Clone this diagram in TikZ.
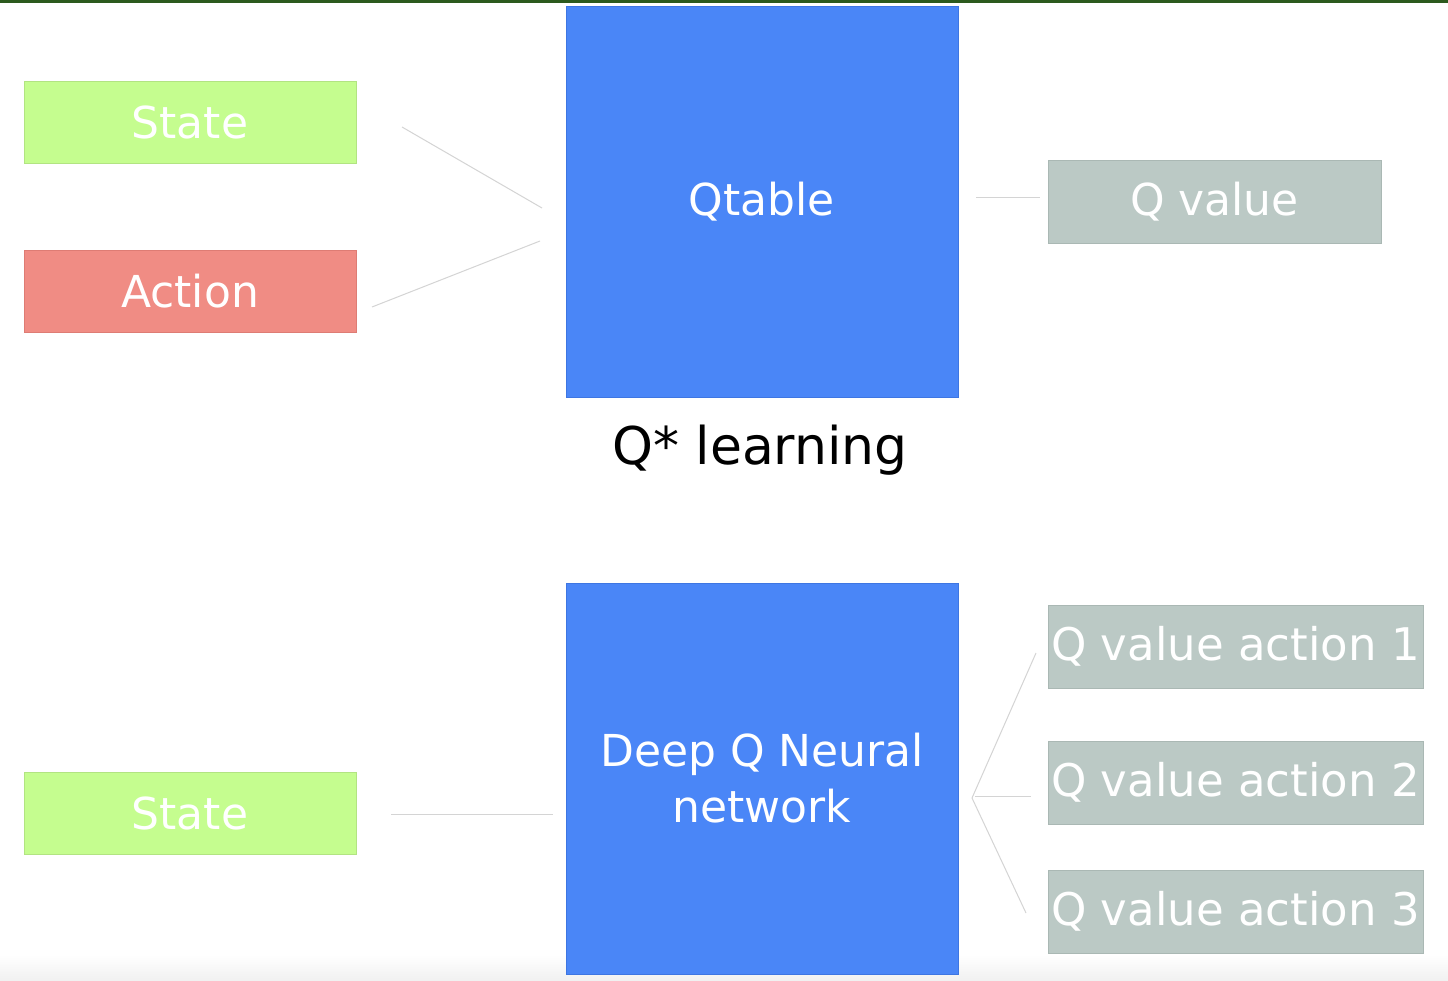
\documentclass[tikz,border=0pt]{standalone}
\usepackage{fontspec}
\setmainfont{DejaVu Sans}
\definecolor{topgreen}{RGB}{44,90,30}
\definecolor{stategreen}{RGB}{197,253,143}
\definecolor{statebd}{RGB}{178,228,130}
\definecolor{actionred}{RGB}{240,140,132}
\definecolor{actionbd}{RGB}{222,124,116}
\definecolor{qblue}{RGB}{74,134,247}
\definecolor{qbluebd}{RGB}{62,118,226}
\definecolor{qgray}{RGB}{187,201,197}
\definecolor{qgraybd}{RGB}{170,184,180}
\definecolor{linegray}{RGB}{212,212,212}
\definecolor{bottomgray}{RGB}{241,241,241}
\tikzset{
  box/.style={anchor=north west, inner sep=0pt, outer sep=0pt, line width=0.8pt, text=white, align=center,
    font=\fontsize{44}{56}\selectfont},
  statebox/.style={box, fill=stategreen, draw=statebd, minimum width=332pt, minimum height=82pt},
  actionbox/.style={box, fill=actionred, draw=actionbd, minimum width=332pt, minimum height=82pt},
  bigbox/.style={box, fill=qblue, draw=qbluebd, minimum width=392pt, minimum height=391pt},
  qbox/.style={box, fill=qgray, draw=qgraybd, minimum height=83pt},
  conn/.style={draw=linegray, line width=1pt}
}
\begin{document}
\begin{tikzpicture}[x=1pt,y=-1pt]
\useasboundingbox (0,0) rectangle (1448,980);
\fill[white] (0,0) rectangle (1448,980);
\shade[top color=white, bottom color=bottomgray] (0,955) rectangle (1448,980);
\fill[topgreen] (0,0) rectangle (1448,3);

% top part
\node[statebox] (s1) at (24,81) {State};
\node[actionbox] (a1) at (24,250) {Action};
\node[bigbox] (qt) at (566,6) {Qtable};
\node[qbox, minimum width=333pt] (qv) at (1048,160) {Q value};
\node[anchor=center, inner sep=0pt, font=\fontsize{52}{60}\selectfont] (ql) at (760,450) {Q* learning};

% bottom part
\node[statebox] (s2) at (24,772) {State};
\node[bigbox] (dq) at (566,583) {Deep Q Neural\\network};
\node[qbox, minimum width=375pt, font=\fontsize{45}{50}\selectfont] (q1) at (1048,605) {Q value action 1};
\node[qbox, minimum width=375pt, font=\fontsize{45}{50}\selectfont] (q2) at (1048,741) {Q value action 2};
\node[qbox, minimum width=375pt, font=\fontsize{45}{50}\selectfont] (q3) at (1048,870) {Q value action 3};

% connector end points
\coordinate (c1a) at (402,127);
\coordinate (c1b) at (542,208);
\coordinate (c2a) at (372,307);
\coordinate (c2b) at (540,241);
\coordinate (c3a) at (976,197);
\coordinate (c3b) at (1040,197);
\coordinate (c4a) at (391,814);
\coordinate (c4b) at (553,814);
\coordinate (fan) at (972,798);
\coordinate (f1) at (1036,653);
\coordinate (f2a) at (975,796);
\coordinate (f2b) at (1031,796);
\coordinate (f3) at (1026,913);

\draw[conn] (c1a) -- (c1b);
\draw[conn] (c2a) -- (c2b);
\draw[conn] (c3a) -- (c3b);
\draw[conn] (c4a) -- (c4b);
\draw[conn] (fan) -- (f1);
\draw[conn] (f2a) -- (f2b);
\draw[conn] (fan) -- (f3);
\end{tikzpicture}
\end{document}
